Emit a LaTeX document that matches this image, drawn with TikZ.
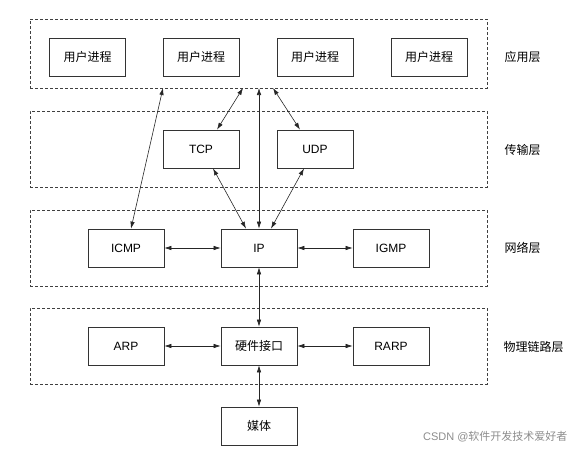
\documentclass[tikz,border=0pt]{standalone}
\usepackage{fontspec}
\setmainfont{Noto Sans CJK SC}
\newfontfamily\lat{Liberation Sans}
\usetikzlibrary{arrows.meta}
\begin{document}
\begin{tikzpicture}[x=1pt,y=-1pt,
  box/.style={draw=black!80,line width=0.7pt,minimum width=76pt,minimum height=38pt,inner sep=0pt,font=\fontsize{12}{14}\selectfont},
  layer/.style={draw=black!75,line width=0.7pt,dash pattern=on 3pt off 2pt,inner sep=0pt},
  lbl/.style={anchor=west,font=\fontsize{12}{14}\selectfont},
  conn/.style={{Latex[length=7pt,width=4.5pt]}-{Latex[length=7pt,width=4.5pt]},line width=0.6pt,draw=black!85}]
\useasboundingbox (0,0) rectangle (584,453);
% layers
\node[layer,minimum width=457pt,minimum height=69pt] (app) at (258.5,53.5) {};
\node[layer,minimum width=457pt,minimum height=76pt] (tra) at (258.5,149) {};
\node[layer,minimum width=457pt,minimum height=76pt] (net) at (258.5,248) {};
\node[layer,minimum width=457pt,minimum height=76pt] (phy) at (258.5,346) {};
\node[lbl] (l1) at (501,57) {应用层};
\node[lbl] (l2) at (501,150) {传输层};
\node[lbl] (l3) at (501,248) {网络层};
\node[lbl] (l4) at (500,347) {物理链路层};
% boxes
\node[box] (u1) at (87.5,57) {用户进程};
\node[box] (u2) at (201,57) {用户进程};
\node[box] (u3) at (315,57) {用户进程};
\node[box] (u4) at (429,57) {用户进程};
\node[box] (tcp) at (201,149) {\lat TCP};
\node[box] (udp) at (315,149) {\lat UDP};
\node[box] (icmp) at (126,248) {\lat ICMP};
\node[box] (ip) at (259,248) {\lat IP};
\node[box] (igmp) at (391,248) {\lat IGMP};
\node[box] (arp) at (126,346) {\lat ARP};
\node[box] (hw) at (259,346) {硬件接口};
\node[box] (rarp) at (391,346) {\lat RARP};
\node[box] (med) at (259,426) {媒体};
% coordinates on the application layer border
\coordinate (a1) at (163,88);
\coordinate (a2) at (243,88);
\coordinate (a3) at (259,88);
\coordinate (a4) at (273,88);
% connectors
\draw[conn] ([xshift=5pt]icmp.north) -- (a1);
\draw[conn] ([xshift=16pt]tcp.north) -- (a2);
\draw[conn] (ip.north) -- (a3);
\draw[conn] ([xshift=-15pt]udp.north) -- (a4);
\draw[conn] ([xshift=12pt]tcp.south) -- ([xshift=-13pt]ip.north);
\draw[conn] ([xshift=-11pt]udp.south) -- ([xshift=12pt]ip.north);
\draw[conn] (icmp.east) -- (ip.west);
\draw[conn] (ip.east) -- (igmp.west);
\draw[conn] (ip.south) -- (hw.north);
\draw[conn] (arp.east) -- (hw.west);
\draw[conn] (hw.east) -- (rarp.west);
\draw[conn] (hw.south) -- (med.north);
% watermark
\node[anchor=east,text=black!45,font=\fontsize{11}{12}\selectfont] (wm) at (571,437) {{\lat CSDN @}软件开发技术爱好者};
\end{tikzpicture}
\end{document}
